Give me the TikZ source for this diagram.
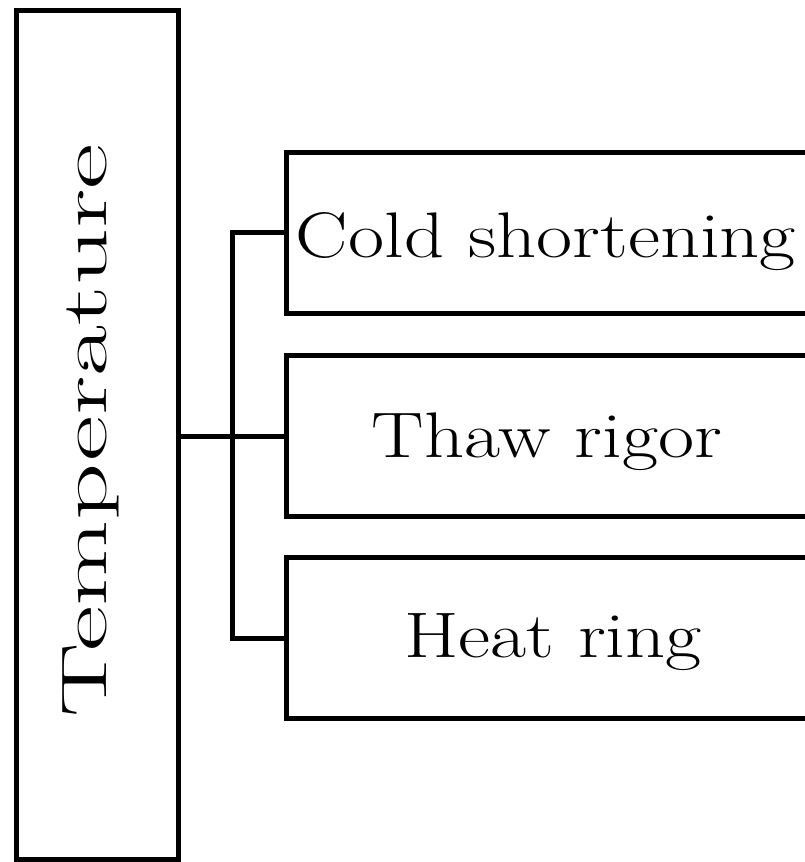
\documentclass[tikz,border=0pt]{standalone}
\usepackage{graphicx}
\begin{document}
\begin{tikzpicture}[x=0.5pt, y=-0.5pt,
  frame/.style={draw=black, line width=2.5pt, rectangle, outer sep=0pt, inner sep=0pt},
  catbox/.style={frame, minimum width=262pt, minimum height=80.5pt},
  wire/.style={draw=black, line width=2.5pt},
  lbl/.style={anchor=base, inner sep=0pt, font=\fontsize{32.2pt}{38pt}\selectfont}]
  \useasboundingbox (0,0) rectangle (804,862);

  % vertical category box
  \node[frame, minimum width=81pt, minimum height=424.5pt] (temp) at (97,434.5) {};
  \node[inner sep=0pt, font=\fontsize{32.2pt}{38pt}\selectfont] (templbl) at (91,431)
    {\rotatebox{90}{\scalebox{1.73}[1]{Temperature}}};

  % three effect boxes
  \node[catbox] (cold) at (548,232.5) {};
  \node[catbox] (thaw) at (548,436) {};
  \node[catbox] (heat) at (548,638) {};

  \node[lbl] (coldlbl) at (546,257) {\scalebox{1.22}[1]{Cold shortening}};
  \node[lbl] (thawlbl) at (547,457) {\scalebox{1.22}[1]{Thaw rigor}};
  \node[lbl] (heatlbl) at (553,657) {\scalebox{1.22}[1]{Heat ring}};

  % connectors
  \coordinate (bus) at (232,0);
  \draw[wire] (thaw.west -| temp.east) -- (thaw.west);
  \draw[wire] (cold.west) -| (bus |- heat.west) -- (heat.west);
\end{tikzpicture}
\end{document}
